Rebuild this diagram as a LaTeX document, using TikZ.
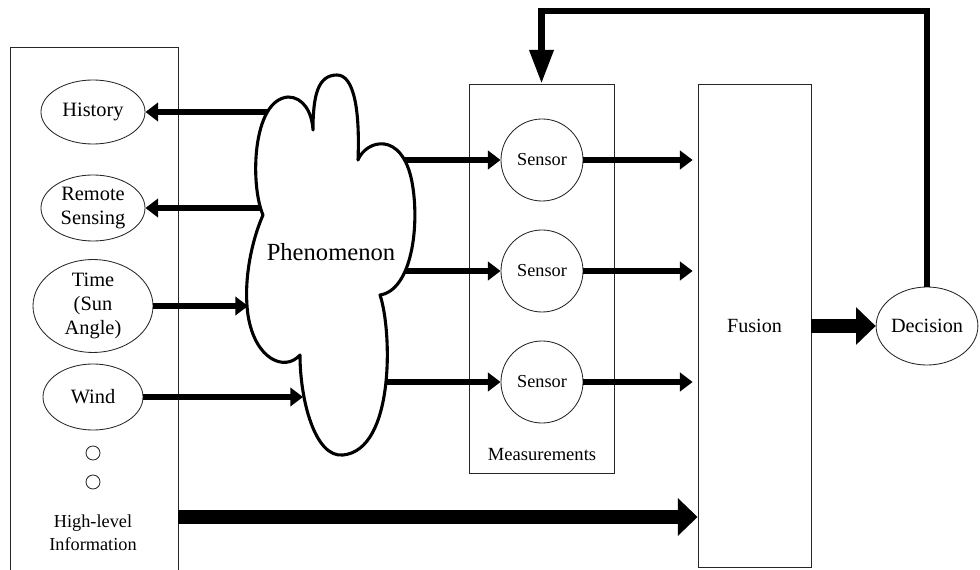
\documentclass[tikz,border=0pt]{standalone}
\usepackage{fontspec}
\setmainfont{Liberation Serif}
\usetikzlibrary{arrows.meta,shapes.geometric}

\tikzset{
  frame/.style={draw=black!85, line width=0.6pt, inner sep=0pt},
  oval/.style={ellipse, draw=black!85, line width=0.6pt, inner sep=0pt, align=center,
    font=\fontsize{14.5}{17}\selectfont},
  sens/.style={circle, draw=black!85, line width=0.6pt, minimum size=2.05cm, inner sep=0pt,
    font=\fontsize{13}{15}\selectfont},
  dot/.style={circle, draw=black!85, line width=0.6pt, minimum size=0.35cm, inner sep=0pt},
  arr/.style={line width=4.3pt, -{Triangle[length=9pt,width=13pt]}},
  bigarr/.style={line width=9.5pt, -{Triangle[length=14pt,width=26pt]}},
  fbarr/.style={line width=4.6pt, line join=miter, -{Triangle[length=24pt,width=16.5pt]}},
  cloudline/.style={line width=2.2pt, line join=round, fill=white},
}

\begin{document}
\begin{tikzpicture}[x=0.025cm, y=-0.025cm]
\useasboundingbox (0,0) rectangle (980,570);

% containers
\node[frame, minimum width=4.2cm, minimum height=13.325cm] (hli) at (94,313.5) {};
\node[frame, minimum width=3.625cm, minimum height=9.725cm] (meas) at (541.5,278.5) {};
\node[frame, minimum width=2.825cm, minimum height=12.075cm,
      font=\fontsize{14.3}{16}\selectfont] (fusion) at (754.5,325.5) {Fusion};

% high-level information sources
\node[oval, minimum width=2.6cm, minimum height=1.6cm] (hist) at (93,112) {History};
\node[oval, minimum width=2.6cm, minimum height=1.65cm] (remote) at (93,208) {Remote\\Sensing};
\node[oval, minimum width=3.0cm, minimum height=1.95cm] (time) at (93,306) {Time\\(Sun\\Angle)};
\node[oval, minimum width=2.5cm, minimum height=1.65cm] (wind) at (93,397) {Wind};
\node[dot] (d1) at (93,453) {};
\node[dot] (d2) at (93,482) {};
\node[align=center, font=\fontsize{13}{16.4}\selectfont] (hltext) at (93,533) {High-level\\Information};

% sensors
\node[sens] (s1) at (542,160) {Sensor};
\node[sens] (s2) at (542,271) {Sensor};
\node[sens] (s3) at (542,382) {Sensor};
\node[font=\fontsize{13.2}{15}\selectfont] (mtext) at (542,455) {Measurements};

% decision
\node[ellipse, draw=black!85, line width=0.6pt, inner sep=0pt, minimum width=2.4cm,
      minimum height=1.95cm, font=\fontsize{14.4}{16}\selectfont] (dec) at (927,326) {Decision};

% attachment points on the cloud outline (only x is used)
\coordinate (ch) at (272,0);
\coordinate (cr) at (265,0);
\coordinate (ct) at (248,0);
\coordinate (cw) at (303,0);
\coordinate (c1) at (400,0);
\coordinate (c2) at (404,0);
\coordinate (c3) at (382,0);
\coordinate (hl) at (0,517);
\coordinate (fb) at (0,11);

% outputs of the phenomenon (start hidden under the cloud)
\draw[arr] (ch |- hist) -- (hist.east);
\draw[arr] (cr |- remote) -- (remote.east);
\draw[arr] (c1 |- s1) -- (s1.west);
\draw[arr] (c2 |- s2) -- (s2.west);
\draw[arr] (c3 |- s3) -- (s3.west);

% the phenomenon cloud
\draw[cloudline]
  (263,215) .. controls (250,185) and (252,100) .. (288,97)
  .. controls (303,97) and (312,112) .. (313,130)
  .. controls (313,95) and (318,75) .. (337,75)
  .. controls (354,75) and (360,110) .. (358,160)
  .. controls (366,140) and (402,130) .. (412,182)
  .. controls (420,225) and (412,290) .. (380,295)
  .. controls (392,330) and (395,450) .. (343,455)
  .. controls (315,458) and (300,400) .. (300,355)
  .. controls (285,372) and (255,360) .. (248,315)
  .. controls (243,280) and (252,240) .. (263,215) -- cycle;
\node[font=\fontsize{17.5}{20}\selectfont] (phen) at (331,252) {Phenomenon};

% inputs to the phenomenon
\draw[arr] (time.east) -- (ct |- time);
\draw[arr] (wind.east) -- (cw |- wind);

% sensor outputs to fusion
\draw[arr, shorten >=3.5pt] (s1.east) -- (fusion.west |- s1);
\draw[arr, shorten >=3.5pt] (s2.east) -- (fusion.west |- s2);
\draw[arr, shorten >=3.5pt] (s3.east) -- (fusion.west |- s3);

% high-level information to fusion, fusion to decision
\draw[bigarr] (hli.east |- hl) -- (fusion.west |- hl);
\draw[bigarr] (fusion.east |- dec) -- (dec.west);

% feedback from decision to the measurements
\draw[fbarr] (dec.north) -- (dec.north |- fb) -| (meas.north);
\end{tikzpicture}
\end{document}
